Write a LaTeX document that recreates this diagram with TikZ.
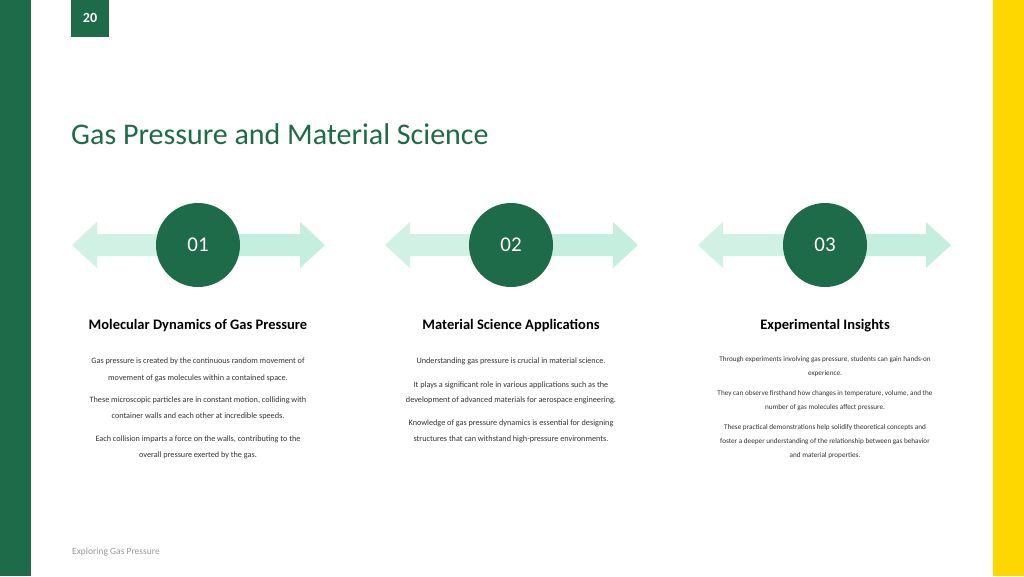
\documentclass[tikz,border=0pt]{standalone}
\usepackage{fontspec}
\setmainfont{Carlito}
\definecolor{dg}{HTML}{1E6B4A}
\definecolor{lg}{HTML}{C4EEDD}
\definecolor{yl}{HTML}{FFD700}
\definecolor{tx}{HTML}{333333}
\begin{document}
\begin{tikzpicture}[x=1pt,y=-1pt,
  body/.style={text=tx,font=\fontsize{8.2}{9}\selectfont,anchor=center,inner sep=0},
  bodys/.style={text=tx,font=\fontsize{7.2}{8}\selectfont,anchor=center,inner sep=0},
  head/.style={text=black,font=\fontsize{14.5}{16}\selectfont\bfseries,anchor=center,inner sep=0},
  num/.style={circle,fill=dg,minimum size=84pt,inner sep=0,text=white,font=\fontsize{21}{24}\selectfont}]
\useasboundingbox (0,0) rectangle (1024,576);
\fill[white] (0,0) rectangle (1024,576);
\fill[dg] (0,0) rectangle (31,576);
\fill[yl] (993,0) rectangle (1024,576);
\fill[dg] (71,0) rectangle (109,37);
\node[text=white,font=\fontsize{14}{16}\selectfont\bfseries] (pg) at (90,18) {20};
\node[anchor=west,text=dg,font=\fontsize{30}{34}\selectfont,inner sep=0] (title) at (71,134) {Gas Pressure and Material Science};
\node[anchor=west,text=gray!80,font=\fontsize{9.5}{11}\selectfont,inner sep=0] (foot) at (72,552) {Exploring Gas Pressure};
\foreach \c/\l/\n in {198/72/01,511/385/02,825/698/03}{
  \pgfmathsetmacro{\r}{\l+253}
  \fill[lg!80] (\l,245) -- (\l+25,222) -- (\l+25,234) -- (\c,234) -- (\c,256) -- (\l+25,256) -- (\l+25,268) -- cycle;
  \fill[lg] (\r,245) -- (\r-25,222) -- (\r-25,234) -- (\c,234) -- (\c,256) -- (\r-25,256) -- (\r-25,268) -- cycle;
  \node[num] (n\n) at (\c,245) {\n};
}
\node[head] (h1) at (198,326) {Molecular Dynamics of Gas Pressure};
\node[head] (h2) at (511,326) {Material Science Applications};
\node[head] (h3) at (825,326) {Experimental Insights};
\node[body] (a1) at (198,361) {Gas pressure is created by the continuous random movement of};
\node[body] (a2) at (198,378) {movement of gas molecules within a contained space.};
\node[body] (a3) at (198,400) {These microscopic particles are in constant motion, colliding with};
\node[body] (a4) at (198,416) {container walls and each other at incredible speeds.};
\node[body] (a5) at (198,439) {Each collision imparts a force on the walls, contributing to the};
\node[body] (a6) at (198,455) {overall pressure exerted by the gas.};
\node[body] (b1) at (511,361) {Understanding gas pressure is crucial in material science.};
\node[body] (b2) at (511,385) {It plays a significant role in various applications such as the};
\node[body] (b3) at (511,400) {development of advanced materials for aerospace engineering.};
\node[body] (b4) at (511,423) {Knowledge of gas pressure dynamics is essential for designing};
\node[body] (b5) at (511,439) {structures that can withstand high-pressure environments.};
\node[bodys] (c1) at (825,360) {Through experiments involving gas pressure, students can gain hands-on};
\node[bodys] (c2) at (825,374) {experience.};
\node[bodys] (c3) at (825,394) {They can observe firsthand how changes in temperature, volume, and the};
\node[bodys] (c4) at (825,408) {number of gas molecules affect pressure.};
\node[bodys] (c5) at (825,428) {These practical demonstrations help solidify theoretical concepts and};
\node[bodys] (c6) at (825,442) {foster a deeper understanding of the relationship between gas behavior};
\node[bodys] (c7) at (825,456) {and material properties.};
\end{tikzpicture}
\end{document}
